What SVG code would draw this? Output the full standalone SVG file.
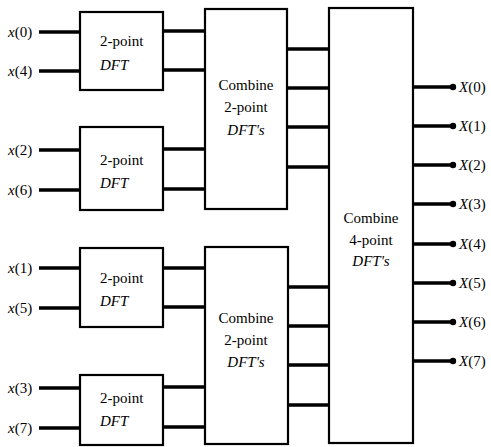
<svg xmlns="http://www.w3.org/2000/svg" width="491" height="447" viewBox="0 0 491 447">
<style>
.box{fill:#fff;stroke:#000;stroke-width:2.2}
.w{stroke:#000;stroke-width:3.5;fill:none}
text{font-family:'Liberation Serif','DejaVu Serif','Times New Roman',serif;font-size:15px;fill:#000}
.i{font-style:italic}
</style>
<rect width="491" height="447" fill="#fff"/>
<g id="connectors">
<path class="w" d="M39 32H80M39 71H80M39 150H80M39 190H80M39 268H80M39 308H80M39 388H80M39 428H80"/>
<path class="w" d="M163 31H205M163 70H205M163 149H205M163 189H205M163 268H205M163 307H205M163 387H205M163 427H205"/>
<path class="w" d="M287 49H329M287 88H329M287 127H329M287 167H329M288 287H329M288 326H329M288 365H329M288 405H329"/>
<path class="w" d="M413 87H453M413 126H453M413 165H453M413 204H453M413 244H453M413 283H453M413 322H453M413 361H453"/>
<g fill="#000"><circle cx="453" cy="87" r="3.2"/><circle cx="453" cy="126" r="3.2"/><circle cx="453" cy="165" r="3.2"/><circle cx="453" cy="204" r="3.2"/><circle cx="453" cy="244" r="3.2"/><circle cx="453" cy="283" r="3.2"/><circle cx="453" cy="322" r="3.2"/><circle cx="453" cy="361" r="3.2"/></g>
</g>
<g id="inputs">
<text x="8" y="37"><tspan class="i">x</tspan>(0)</text>
<text x="8" y="76"><tspan class="i">x</tspan>(4)</text>
<text x="8" y="155"><tspan class="i">x</tspan>(2)</text>
<text x="8" y="195"><tspan class="i">x</tspan>(6)</text>
<text x="8" y="273"><tspan class="i">x</tspan>(1)</text>
<text x="8" y="313"><tspan class="i">x</tspan>(5)</text>
<text x="8" y="393"><tspan class="i">x</tspan>(3)</text>
<text x="8" y="433"><tspan class="i">x</tspan>(7)</text>
</g>
<g id="dft1"><rect class="box" x="80" y="12" width="83" height="78"/><text x="100" y="46">2-point</text><text class="i" x="100" y="70">DFT</text></g>
<g id="dft2"><rect class="box" x="80" y="127" width="83" height="83"/><text x="100" y="165">2-point</text><text class="i" x="100" y="188">DFT</text></g>
<g id="dft3"><rect class="box" x="80" y="248" width="83" height="79"/><text x="100" y="283">2-point</text><text class="i" x="100" y="306">DFT</text></g>
<g id="dft4"><rect class="box" x="80" y="375" width="83" height="70"/><text x="100" y="403">2-point</text><text class="i" x="100" y="426">DFT</text></g>
<g id="comb1"><rect class="box" x="205" y="9" width="82" height="200"/><text x="246" y="90" text-anchor="middle">Combine</text><text x="246" y="112" text-anchor="middle">2-point</text><text class="i" x="246" y="135" text-anchor="middle">DFT's</text></g>
<g id="comb2"><rect class="box" x="205" y="247" width="83" height="197"/><text x="246" y="323" text-anchor="middle">Combine</text><text x="246" y="345" text-anchor="middle">2-point</text><text class="i" x="246" y="367" text-anchor="middle">DFT's</text></g>
<g id="comb4"><rect class="box" x="329" y="8" width="84" height="435"/><text x="371" y="223" text-anchor="middle">Combine</text><text x="371" y="245" text-anchor="middle">4-point</text><text class="i" x="371" y="266" text-anchor="middle">DFT's</text></g>
<g id="outputs">
<text x="459" y="92"><tspan class="i">X</tspan>(0)</text>
<text x="459" y="131"><tspan class="i">X</tspan>(1)</text>
<text x="459" y="170"><tspan class="i">X</tspan>(2)</text>
<text x="459" y="209"><tspan class="i">X</tspan>(3)</text>
<text x="459" y="249"><tspan class="i">X</tspan>(4)</text>
<text x="459" y="288"><tspan class="i">X</tspan>(5)</text>
<text x="459" y="327"><tspan class="i">X</tspan>(6)</text>
<text x="459" y="366"><tspan class="i">X</tspan>(7)</text>
</g>
</svg>
